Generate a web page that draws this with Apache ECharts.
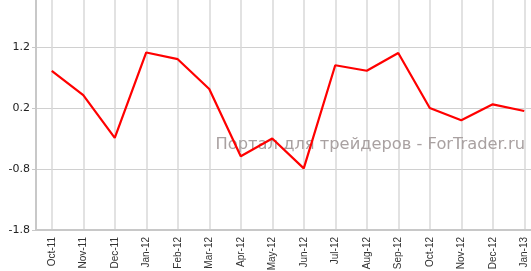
<!DOCTYPE html>
<html><head><meta charset="utf-8">
<script src="https://cdn.jsdelivr.net/npm/echarts@6/dist/echarts.min.js"></script>
<style>html,body{margin:0;padding:0;background:#fff}#c{width:531px;height:271px}</style>
</head><body><div id="c"></div>
<script>
const categories = ['Oct-11','Nov-11','Dec-11','Jan-12','Feb-12','Mar-12','Apr-12','May-12','Jun-12','Jul-12','Aug-12','Sep-12','Oct-12','Nov-12','Dec-12','Jan-13'];
const values = [0.81, 0.41, -0.29, 1.11, 1.00, 0.51, -0.59, -0.30, -0.79, 0.90, 0.81, 1.10, 0.20, 0.00, 0.26, 0.15];
const yTicks = [-1.8, -0.8, 0.2, 1.2];
const yMin = -1.8, yMax = 1.97;
const watermark = 'Портал для трейдеров - ForTrader.ru';

const chart = echarts.init(document.getElementById('c'), null, {renderer:'canvas'});
chart.setOption({
  animation: false,
  backgroundColor: '#fff',
  grid: {left: 36, top: 0, width: 504, height: 230, containLabel: false, outerBoundsMode: 'none'},
  xAxis: {
    type: 'category', data: categories, boundaryGap: true,
    axisLine: {onZero: false, lineStyle: {color: '#c8c8c8', width: 2}},
    axisTick: {alignWithLabel: true, length: 4, lineStyle: {color: '#c8c8c8'}},
    splitLine: {show: true, alignWithLabel: true, lineStyle: {color: '#d8d8d8', width: 1.5}},
    axisLabel: {rotate: 90, interval: 0, margin: 7, fontSize: 10, fontFamily: 'Liberation Sans', color: '#333'}
  },
  yAxis: {
    type: 'value', min: yMin, max: yMax,
    axisLine: {show: true, lineStyle: {color: '#c8c8c8', width: 2}},
    axisTick: {show: true, length: 4, customValues: yTicks, lineStyle: {color: '#c8c8c8'}},
    splitLine: {show: true, lineStyle: {color: '#d0d0d0', width: 1}},
    axisLabel: {customValues: yTicks, margin: 6, fontSize: 11, fontFamily: 'DejaVu Sans', color: '#222',
      formatter: v => v.toFixed(1)}
  },
  graphic: [{
    type: 'text', right: 6, top: 137, z: 1,
    style: {text: watermark, font: '16.3px "DejaVu Sans"', fill: '#a9a1a1'}
  }],
  series: [{
    type: 'line', data: values, symbol: 'none', z: 5,
    lineStyle: {color: '#ff0000', width: 2.2}
  }]
});
</script></body></html>
